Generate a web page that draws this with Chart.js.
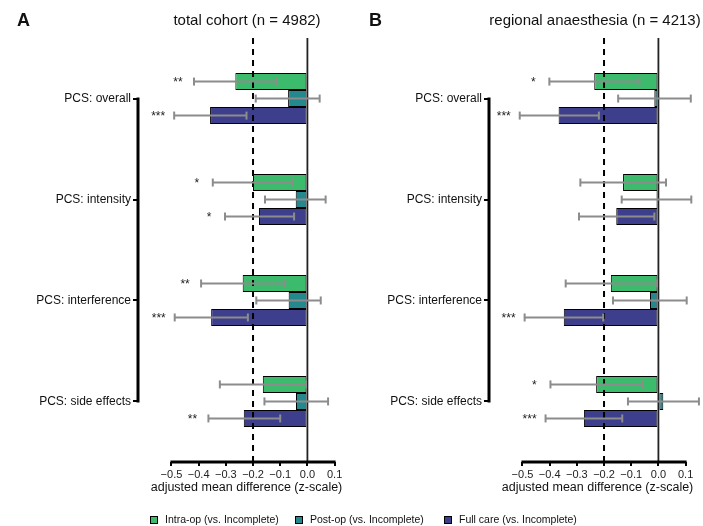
<!DOCTYPE html>
<html><head><meta charset="utf-8">
<script src="https://cdn.jsdelivr.net/npm/chart.js@4.4.1/dist/chart.umd.min.js"></script>
<style>
html,body{margin:0;padding:0;background:#fff;overflow:hidden;}
#wrap{position:relative;width:703px;height:526px;overflow:hidden;font-family:"Liberation Sans",Arial,sans-serif;color:#111;}
canvas{position:absolute;top:0;}
.t{position:absolute;white-space:nowrap;line-height:1;}
.c{transform:translateX(-50%);}
.sq{position:absolute;width:6px;height:6px;border:1px solid #000;}
.lg{position:absolute;font-size:10.5px;line-height:1;color:#111;white-space:nowrap;}
</style></head><body>
<div id="wrap">
<canvas id="cA" width="360" height="526" style="left:0"></canvas>
<canvas id="cB" width="360" height="526" style="left:360px"></canvas>
<div class="t" style="left:17px;top:11px;font-weight:bold;font-size:18px">A</div>
<div class="t c" id="tA" style="left:247px;top:12px;font-size:15px"></div>
<div class="t" style="left:369px;top:11px;font-weight:bold;font-size:18px">B</div>
<div class="t c" id="tB" style="left:595px;top:12px;font-size:15px"></div>
<div id="legend"></div>
</div>
<script>
// ---------- data ----------
const categories = ['PCS: overall', 'PCS: intensity', 'PCS: interference', 'PCS: side effects'];
const yPos = [1, 2, 3, 4];
const seriesNames = ['Intra-op (vs. Incomplete)', 'Post-op (vs. Incomplete)', 'Full care (vs. Incomplete)'];
const seriesColors = ['#3dbb6c', '#23898e', '#3e3f8c'];
const xTicks = [-0.5, -0.4, -0.3, -0.2, -0.1, 0.0, 0.1];
const refLine = -0.2;
const panelTitles = ['total cohort (n = 4982)', 'regional anaesthesia (n = 4213)'];
const xTitle = 'adjusted mean difference (z-scale)';

// total cohort
const totIntra   = [-0.265, -0.200, -0.238, -0.164];
const totIntraLo = [-0.417, -0.348, -0.391, -0.322];
const totIntraHi = [-0.113, -0.055, -0.082, -0.005];
const totIntraSig = ['**', '*', '**', ''];
const totPost    = [-0.071, -0.043, -0.069, -0.042];
const totPostLo  = [-0.190, -0.156, -0.188, -0.158];
const totPostHi  = [0.045, 0.067, 0.049, 0.076];
const totPostSig = ['', '', '', ''];
const totFull    = [-0.358, -0.178, -0.354, -0.234];
const totFullLo  = [-0.490, -0.303, -0.488, -0.364];
const totFullHi  = [-0.224, -0.049, -0.219, -0.100];
const totFullSig = ['***', '*', '***', '**'];

// regional anaesthesia
const regIntra   = [-0.236, -0.130, -0.175, -0.229];
const regIntraLo = [-0.401, -0.287, -0.341, -0.397];
const regIntraHi = [-0.070, 0.028, -0.005, -0.060];
const regIntraSig = ['*', '', '', '*'];
const regPost    = [-0.015, -0.007, -0.031, 0.018];
const regPostLo  = [-0.148, -0.135, -0.167, -0.112];
const regPostHi  = [0.119, 0.121, 0.104, 0.149];
const regPostSig = ['', '', '', ''];
const regFull    = [-0.367, -0.155, -0.348, -0.274];
const regFullLo  = [-0.510, -0.292, -0.492, -0.415];
const regFullHi  = [-0.219, -0.015, -0.203, -0.133];
const regFullSig = ['***', '', '***', '***'];

// ---------- drawing ----------
const FAM = '"Liberation Sans", Arial, sans-serif';
document.getElementById('tA').textContent = panelTitles[0];
document.getElementById('tB').textContent = panelTitles[1];

const legendLefts = [150, 295, 444];
const lg = document.getElementById('legend');
seriesNames.forEach((n, i) => {
  const s = document.createElement('div');
  s.className = 'sq';
  s.style.left = legendLefts[i] + 'px'; s.style.top = '516px';
  s.style.background = seriesColors[i];
  lg.appendChild(s);
  const t = document.createElement('div');
  t.className = 'lg';
  t.style.left = (legendLefts[i] + 15) + 'px'; t.style.top = '514px';
  t.textContent = n;
  lg.appendChild(t);
});

function mkSet(i, vals, lo, hi, sig) {
  return {
    label: seriesNames[i],
    data: vals.map((v, j) => ({x: v, y: yPos[j]})),
    lo, hi, sig,
    backgroundColor: seriesColors[i],
    borderColor: '#000',
    borderWidth: 1,
    borderSkipped: false,
    categoryPercentage: 0.505,
    barPercentage: 1.0
  };
}

function seg(ctx, x1, y1, x2, y2) { ctx.beginPath(); ctx.moveTo(x1, y1); ctx.lineTo(x2, y2); ctx.stroke(); }

const decor = {
  id: 'decor',
  afterDatasetsDraw(chart) {
    const {ctx, chartArea: a, scales: {x, y}} = chart;
    ctx.save();
    ctx.lineCap = 'butt';
    // reference dashed line
    ctx.strokeStyle = '#000'; ctx.lineWidth = 2; ctx.setLineDash([6, 5]);
    const xr = x.getPixelForValue(refLine);
    seg(ctx, xr, a.top, xr, a.bottom);
    ctx.setLineDash([]);
    // zero line
    ctx.strokeStyle = '#222'; ctx.lineWidth = 1.8;
    const x0 = x.getPixelForValue(0);
    seg(ctx, x0, a.top, x0, a.bottom);
    // error bars + stars
    chart.data.datasets.forEach((ds, i) => {
      const meta = chart.getDatasetMeta(i);
      meta.data.forEach((bar, j) => {
        const yy = bar.y;
        const xl = x.getPixelForValue(ds.lo[j]);
        const xh = x.getPixelForValue(ds.hi[j]);
        ctx.strokeStyle = '#8c8c8c'; ctx.lineWidth = 2;
        seg(ctx, xl, yy, xh, yy);
        seg(ctx, xl, yy - 4, xl, yy + 4);
        seg(ctx, xh, yy - 4, xh, yy + 4);
        if (ds.sig[j]) {
          ctx.fillStyle = '#222';
          ctx.font = '12px ' + FAM;
          ctx.textAlign = 'center'; ctx.textBaseline = 'middle';
          ctx.fillText(ds.sig[j], xl - 16, yy + 1);
        }
      });
    });
    // axis lines (from first to last tick)
    ctx.strokeStyle = '#000'; ctx.lineWidth = 3;
    seg(ctx, x.getPixelForValue(xTicks[0]) - 1, a.bottom, x.getPixelForValue(xTicks[xTicks.length - 1]) + 1, a.bottom);
    seg(ctx, a.left, y.getPixelForValue(yPos[0]) - 1, a.left, y.getPixelForValue(yPos[yPos.length - 1]) + 1);
    ctx.restore();
  }
};

const fmt = v => v.toFixed(1).replace('-', '\u2212');

function makeChart(id, datasets, yAxisWidth, padRight) {
  return new Chart(document.getElementById(id), {
    type: 'bar',
    data: {datasets},
    options: {
      indexAxis: 'y',
      responsive: false,
      animation: false,
      layout: {padding: {top: 38, right: padRight, left: 0, bottom: 0}},
      plugins: {legend: {display: false}, tooltip: {enabled: false}},
      scales: {
        x: {
          type: 'linear', min: -0.623, max: 0.175,
          afterBuildTicks(s) { s.ticks = xTicks.map(v => ({value: v})); },
          afterFit(s) { s.height = 64; },
          grid: {drawOnChartArea: false, drawTicks: true, tickLength: 4, color: '#000', lineWidth: 2},
          border: {display: false},
          ticks: {callback: v => fmt(v), font: {size: 11, family: FAM}, color: '#222', padding: 2, maxRotation: 0, autoSkip: false},
          title: {display: true, text: xTitle, font: {size: 12.5, family: FAM}, color: '#111', padding: {top: 0, bottom: 31}}
        },
        y: {
          type: 'linear', min: 0.4, max: 4.6, reverse: true, offset: false,
          afterBuildTicks(s) { s.ticks = yPos.map(v => ({value: v})); },
          afterFit(s) { s.width = yAxisWidth; },
          grid: {offset: false, drawOnChartArea: false, drawTicks: true, tickLength: 5, color: '#000', lineWidth: 2},
          border: {display: false},
          ticks: {callback: v => categories[yPos.indexOf(v)], font: {size: 12, family: FAM}, color: '#111', padding: 2, autoSkip: false}
        }
      }
    },
    plugins: [decor]
  });
}

makeChart('cA', [
  mkSet(0, totIntra, totIntraLo, totIntraHi, totIntraSig),
  mkSet(1, totPost, totPostLo, totPostHi, totPostSig),
  mkSet(2, totFull, totFullLo, totFullHi, totFullSig)
], 138, 5);

makeChart('cB', [
  mkSet(0, regIntra, regIntraLo, regIntraHi, regIntraSig),
  mkSet(1, regPost, regPostLo, regPostHi, regPostSig),
  mkSet(2, regFull, regFullLo, regFullHi, regFullSig)
], 129, 14);
</script>
</body></html>
